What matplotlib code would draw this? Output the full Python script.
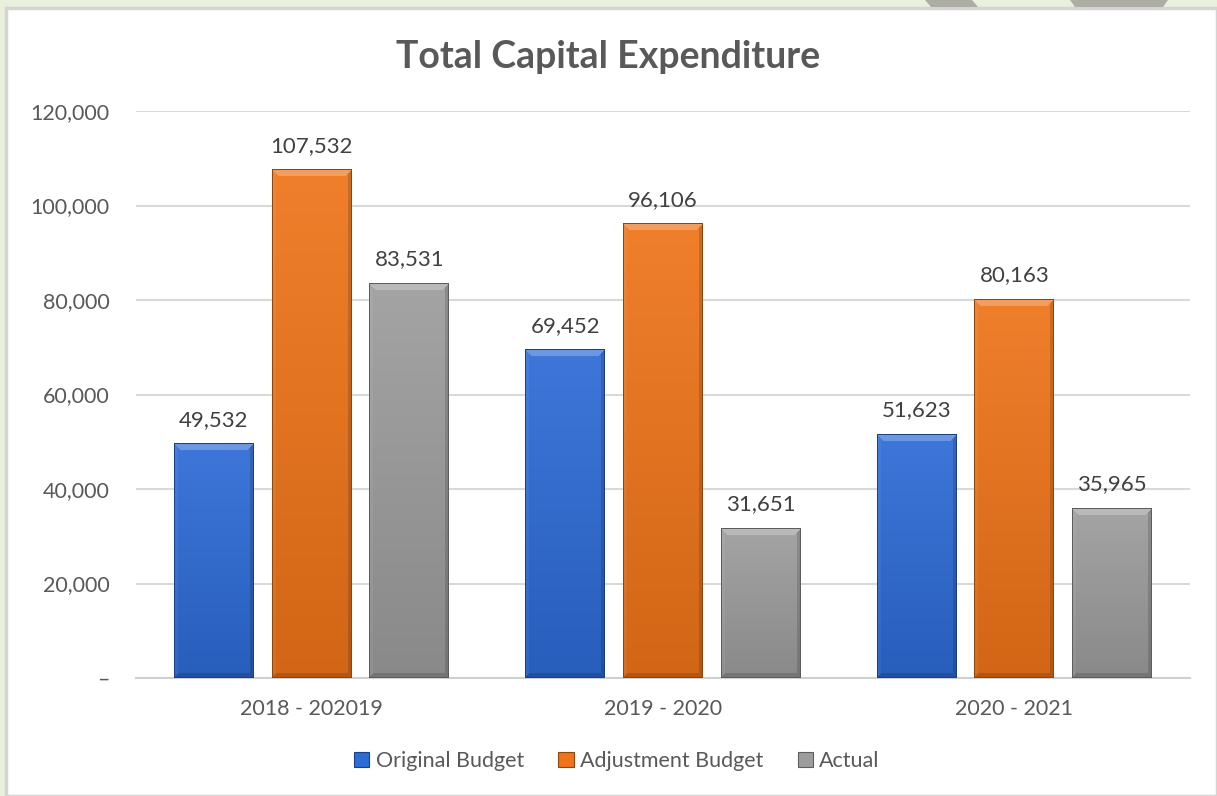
import numpy as np
import matplotlib
matplotlib.use("Agg")
import matplotlib.pyplot as plt
from matplotlib.colors import to_rgb
from matplotlib.patches import Rectangle, Polygon
from matplotlib.ticker import FuncFormatter

plt.rcParams['font.family'] = ['Lato', 'DejaVu Sans']

# chart data
years = ['2018 - 202019', '2019 - 2020', '2020 - 2021']
series = ['Original Budget', 'Adjustment Budget', 'Actual']
original_budget = [49532, 69452, 51623]
adjustment_budget = [107532, 96106, 80163]
actual = [83531, 31651, 35965]

values = [original_budget, adjustment_budget, actual]
colors = ['#2d6bd6', '#ee7419', '#9c9c9c']

TEXT = '#595959'


def shade(c, k):
    """k > 0 lightens toward white, k < 0 darkens toward black"""
    c = np.array(to_rgb(c))
    if k >= 0:
        return c + (1 - c) * k
    return c * (1 + k)


def bevel_image(color, w, h, b=7):
    """pixel image of a bevelled bar face, w x h pixels"""
    w = max(int(round(w)), 2)
    h = max(int(round(h)), 2)
    img = np.zeros((h, w, 3))
    rows = np.arange(h)[:, None] * np.ones((1, w))
    cols = np.ones((h, 1)) * np.arange(w)[None, :]
    dt, db = rows, h - 1 - rows
    dl, dr = cols, w - 1 - cols
    d = np.stack([dt, db, dl, dr])
    face = np.argmin(d, axis=0)
    near = d.min(axis=0)
    # body: light top to darker bottom
    t = rows / max(h - 1, 1)
    top_c = shade(color, 0.08)
    bot_c = shade(color, -0.12)
    for ch in range(3):
        img[..., ch] = top_c[ch] * (1 - t) + bot_c[ch] * t
    bb = min(b, h // 2)
    # top facet catches the light, the rest stay close to the body
    m = (near < bb) & (face == 0)
    img[m] = shade(color, 0.3)
    m = (near < bb - 2) & (face == 1)
    img[m] = img[m] * 0.85
    m = (near < bb - 3) & (face == 2)
    img[m] = img[m] * 0.95 + 0.05
    m = (near < bb - 3) & (face == 3)
    img[m] = img[m] * 0.85
    edge = near < 1
    img[edge] = shade(color, -0.4)
    return np.clip(img, 0, 1)


fig = plt.figure(figsize=(12.17, 7.96), dpi=100)
fig.patch.set_facecolor('#e9f0dc')

# white chart area with a grey frame
fig.add_artist(Rectangle((6 / 1217, 0), 1 - 6 / 1217, 1 - 8 / 796,
                         transform=fig.transFigure, facecolor='white',
                         edgecolor='#d4d4d4', linewidth=2.5, zorder=0))
# grey shapes peeking over the top edge
fig.add_artist(Polygon([(925 / 1217, 1), (972 / 1217, 1), (978 / 1217, 1 - 7 / 796),
                        (931 / 1217, 1 - 7 / 796)], closed=True,
                       transform=fig.transFigure, facecolor='#adada5',
                       edgecolor='none', zorder=1))
fig.add_artist(Polygon([(1070 / 1217, 1), (1168 / 1217, 1), (1163 / 1217, 1 - 7 / 796),
                        (1075 / 1217, 1 - 7 / 796)], closed=True,
                       transform=fig.transFigure, facecolor='#adada5',
                       edgecolor='none', zorder=1))

ax = fig.add_axes([136 / 1217, 1 - 678 / 796, 1054 / 1217, (678 - 111) / 796])
ax.set_facecolor('none')
ax.set_xlim(-0.5, len(years) - 0.5)
ax.set_ylim(0, 120000)

x = np.arange(len(years))
width = 0.227
step = 0.278

for i, (vals, col) in enumerate(zip(values, colors)):
    bars = ax.bar(x + (i - 1) * step, vals, width, color=col, zorder=3,
                  label=series[i], linewidth=0)
    for rect, v in zip(bars, vals):
        x0, y0 = rect.get_x(), rect.get_y()
        x1, y1 = x0 + rect.get_width(), y0 + rect.get_height()
        p0 = ax.transData.transform((x0, y0))
        p1 = ax.transData.transform((x1, y1))
        img = bevel_image(col, p1[0] - p0[0], p1[1] - p0[1])
        ax.imshow(img, extent=(x0, x1, y0, y1), aspect='auto',
                  interpolation='bilinear', zorder=4, origin='upper')
        ax.annotate(f'{v:,}', (rect.get_x() + rect.get_width() / 2, v),
                    xytext=(0, 10), textcoords='offset points',
                    ha='center', va='bottom', fontsize=16, color='#404040')

ax.set_xlim(-0.5, len(years) - 0.5)
ax.set_ylim(0, 120000)
ax.set_yticks(np.arange(0, 120001, 20000))
ax.yaxis.set_major_formatter(FuncFormatter(lambda v, p: '–' if v == 0 else f'{int(v):,}'))
ax.set_xticks(x)
ax.set_xticklabels(years)
ax.tick_params(axis='both', length=0, labelsize=15.5, labelcolor=TEXT)
ax.tick_params(axis='y', pad=19)
ax.tick_params(axis='x', pad=15)
ax.grid(axis='y', color='#d9d9d9', linewidth=1.5, zorder=0)
for s in ['top', 'right', 'left']:
    ax.spines[s].set_visible(False)
ax.spines['bottom'].set_color('#d0d0d0')
ax.spines['bottom'].set_linewidth(1.5)

fig.text(0.5, 1 - 57 / 796, 'Total Capital Expenditure', ha='center', va='center',
         fontsize=27, fontweight='bold', color=TEXT)

handles = [Rectangle((0, 0), 1, 1, facecolor=c, edgecolor=shade(c, -0.4), linewidth=0.8)
           for c in colors]
leg = fig.legend(handles, series, loc='center', bbox_to_anchor=(617 / 1217, 1 - 761 / 796),
                 ncol=3, frameon=False, fontsize=15.5, handlelength=0.7, handleheight=0.7,
                 handletextpad=0.3, columnspacing=1.6)
for t in leg.get_texts():
    t.set_color(TEXT)

fig.savefig('out.png', dpi=100, facecolor=fig.get_facecolor())
